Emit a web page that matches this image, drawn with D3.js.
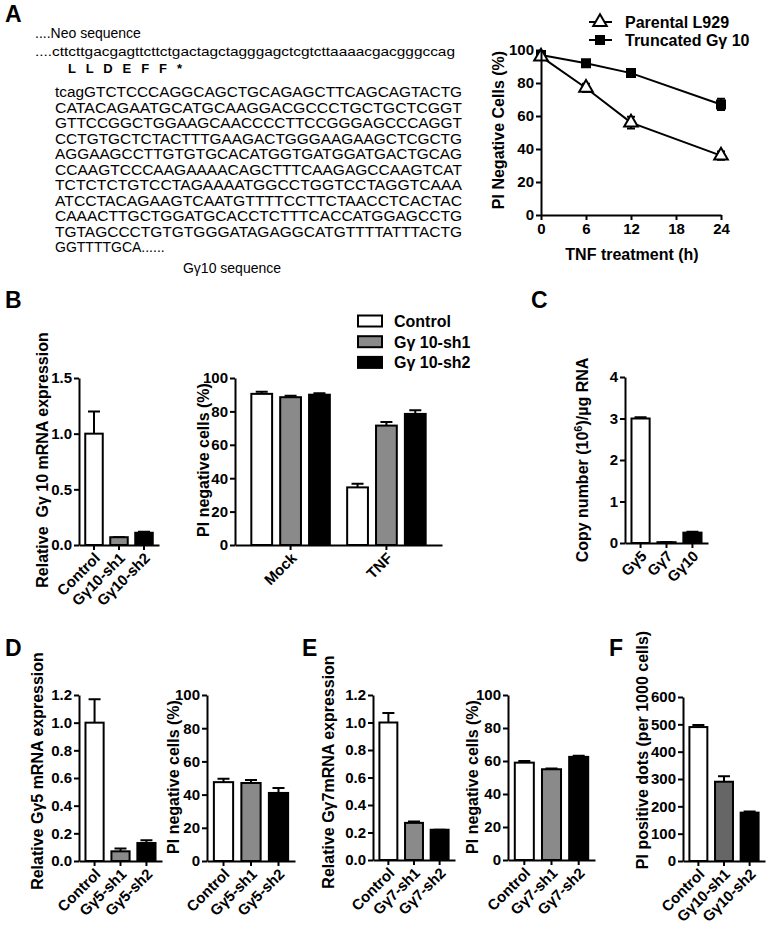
<!DOCTYPE html>
<meta charset="utf-8">
<script src="https://d3js.org/d3.v7.min.js"></script>
<style>
  body { margin: 0; background: #fff; }
  svg text { font-family: "Liberation Sans", Arial, sans-serif; fill: #000; }
  .axis path, .axis line { stroke: #000; stroke-width: 2px; }
  .axis text { font-size: 15px; font-weight: bold; }
  .title { font-size: 16px; font-weight: bold; white-space: pre; }
  .panel { font-size: 23px; font-weight: bold; }
  .seq { font-size: 14px; }
</style>
<body>
<svg id="fig" width="769" height="937"></svg>

<script>
// values
var tnfHours = [0, 6, 12, 24];
var hourTicks = [0, 6, 12, 18, 24];
var parentalL929 = [96, 77, 56, 36];
var parentalErr = [2, 2.5, 3.5, 2.5];
var truncatedGy10 = [97, 92, 86, 67];
var truncatedErr = [1, 1, 1, 3.4];

var piTicks = [0, 20, 40, 60, 80, 100];

var gy10Groups = ["Control", "Gγ 10-sh1", "Gγ 10-sh2"];
var gy10Labels = ["Control", "Gγ10-sh1", "Gγ10-sh2"];
var gy10Mrna = [1.0, 0.07, 0.11];
var gy10MrnaErr = [0.2, 0, 0.01];
var gy10MrnaTicks = [0, 0.5, 1.0, 1.5];

var treatments = ["Mock", "TNF"];
var mockPiNeg = [90.5, 88.5, 90];
var mockPiErr = [1.2, 0.8, 0.8];
var tnfPiNeg = [34.5, 71.5, 78.5];
var tnfPiErr = [2.2, 2.2, 2.2];

var gammaSubtypes = ["Gγ5", "Gγ7", "Gγ10"];
var copyNumber = [3.0, 0.02, 0.25];
var copyNumberErr = [0.03, 0, 0.02];
var copyTicks = [0, 1, 2, 3, 4];

var mrnaTicks = [0, 0.2, 0.4, 0.6, 0.8, 1.0, 1.2];

var gy5Labels = ["Control", "Gγ5-sh1", "Gγ5-sh2"];
var gy5Mrna = [1.0, 0.07, 0.13];
var gy5MrnaErr = [0.17, 0.02, 0.02];
var gy5PiNeg = [47.5, 47, 41];
var gy5PiErr = [2, 1.8, 3];

var gy7Labels = ["Control", "Gγ7-sh1", "Gγ7-sh2"];
var gy7Mrna = [1.0, 0.27, 0.22];
var gy7MrnaErr = [0.07, 0.01, 0];
var gy7PiNeg = [59, 55, 62.5];
var gy7PiErr = [1, 0.5, 0.7];

var dotLabels = ["Control", "Gγ10-sh1", "Gγ10-sh2"];
var piPositiveDots = [490, 290, 177];
var piPositiveErr = [8, 20, 4];
var dotTicks = [0, 100, 200, 300, 400, 500, 600];

var sequenceLines = [
  "tcagGTCTCCCAGGCAGCTGCAGAGCTTCAGCAGTACTG",
  "CATACAGAATGCATGCAAGGACGCCCTGCTGCTCGGT",
  "GTTCCGGCTGGAAGCAACCCCTTCCGGGAGCCCAGGT",
  "CCTGTGCTCTACTTTGAAGACTGGGAAGAAGCTCGCTG",
  "AGGAAGCCTTGTGTGCACATGGTGATGGATGACTGCAG",
  "CCAAGTCCCAAGAAAACAGCTTTCAAGAGCCAAGTCAT",
  "TCTCTCTGTCCTAGAAAATGGCCTGGTCCTAGGTCAAA",
  "ATCCTACAGAAGTCAATGTTTTCCTTCTAACCTCACTAC",
  "CAAACTTGCTGGATGCACCTCTTTCACCATGGAGCCTG",
  "TGTAGCCCTGTGTGGGATAGAGGCATGTTTTATTTACTG"
];

var fills = ["#fff", "#8a8a8a", "#000"];

var svg = d3.select("#fig");

// panel letters
[["A", 5, 22], ["B", 5, 308], ["C", 531, 308], ["D", 5, 656], ["E", 302, 656], ["F", 609, 656]]
  .forEach(function(p) {
    svg.append("text").attr("class", "panel").attr("x", p[1]).attr("y", p[2]).text(p[0]);
  });

// ---- A: sequence text ----
svg.append("text").attr("x", 35).attr("y", 38).style("font-size", "14px").text("....Neo sequence");
svg.append("text").attr("x", 35).attr("y", 56).style("font-size", "13px")
  .attr("textLength", 420).attr("lengthAdjust", "spacingAndGlyphs")
  .text("....cttcttgacgagttcttctgactagctagggagctcgtcttaaaacgacgggccag");
svg.append("text").attr("x", 68).attr("y", 73).style("font-size", "13px").style("font-weight", "bold")
  .attr("textLength", 114).text("L L D E F F *");
svg.selectAll(".seq")
  .data(sequenceLines)
  .enter()
  .append("text")
    .attr("class", "seq")
    .attr("x", 55)
    .attr("y", function(d, i) { return 97 + i * 15.5; })
    .attr("textLength", 407)
    .attr("lengthAdjust", "spacingAndGlyphs")
    .text(function(d) { return d; });
svg.append("text").attr("class", "seq").attr("x", 55).attr("y", 97 + 10 * 15.5).text("GGTTTTGCA......");
svg.append("text").attr("x", 232).attr("y", 273).attr("text-anchor", "middle")
  .style("font-size", "14px").text("Gγ10 sequence");

// ---- A: time course ----
var xA = d3.scaleLinear().domain([0, 24]).range([541, 721]);
var yA = d3.scaleLinear().domain([0, 100]).range([215, 50]);

function series(vals, errs, symbol, size, fill) {
  var g = svg.append("g");
  g.selectAll(".err")
    .data(vals)
    .enter()
    .append("path")
      .attr("d", function(d, i) {
        var x = xA(tnfHours[i]), y0 = yA(d - errs[i]), y1 = yA(d + errs[i]);
        return "M" + x + "," + y0 + "V" + y1 + "M" + (x - 4) + "," + y0 + "h8M" + (x - 4) + "," + y1 + "h8";
      })
      .attr("stroke", "#000").attr("stroke-width", 2);
  g.append("path")
    .datum(vals)
    .attr("d", d3.line()
      .x(function(d, i) { return xA(tnfHours[i]); })
      .y(function(d) { return yA(d); }))
    .attr("fill", "none").attr("stroke", "#000").attr("stroke-width", 2);
  g.selectAll(".pt")
    .data(vals)
    .enter()
    .append("path")
      .attr("transform", function(d, i) { return "translate(" + xA(tnfHours[i]) + "," + yA(d) + ")"; })
      .attr("d", d3.symbol().type(symbol).size(size))
      .attr("fill", fill).attr("stroke", "#000").attr("stroke-width", 2);
}
series(truncatedGy10, truncatedErr, d3.symbolSquare, 64, "#000");
series(parentalL929, parentalErr, d3.symbolTriangle, 80, "#fff");

svg.append("g").attr("class", "axis").attr("transform", "translate(541,0)")
  .call(d3.axisLeft(yA).tickValues(piTicks).tickSize(5).tickSizeOuter(0).tickPadding(2));
svg.append("g").attr("class", "axis").attr("transform", "translate(0,215)")
  .call(d3.axisBottom(xA).tickValues(hourTicks).tickSize(5).tickSizeOuter(0));
svg.append("text").attr("class", "title").attr("text-anchor", "middle")
  .attr("transform", "translate(504,130) rotate(-90)").text("PI Negative Cells (%)");
svg.append("text").attr("class", "title").attr("text-anchor", "middle")
  .attr("x", 632).attr("y", 260).text("TNF treatment (h)");

// legend A
var legA = [["Parental L929", d3.symbolTriangle, "#fff", 80], ["Truncated Gγ 10", d3.symbolSquare, "#000", 64]];
legA.forEach(function(l, i) {
  var y = 22 + i * 18;
  svg.append("path").attr("d", "M589," + y + "h23").attr("stroke", "#000").attr("stroke-width", 2);
  svg.append("path").attr("transform", "translate(600," + y + ")")
    .attr("d", d3.symbol().type(l[1]).size(l[3]))
    .attr("fill", l[2]).attr("stroke", "#000").attr("stroke-width", 2);
  svg.append("text").attr("class", "title").attr("x", 625).attr("y", y + 6).text(l[0]);
});

// ---- generic bar chart ----
function barChart(o) {
  var g = svg.append("g");
  var x = d3.scaleBand().domain(o.labels).range([o.left, o.right]).paddingInner(0.3).paddingOuter(0.25);
  var y = d3.scaleLinear().domain([0, o.max]).range([o.bottom, o.top]);
  var f = o.fills || fills;
  g.selectAll(".err")
    .data(o.values)
    .enter()
    .append("path")
      .attr("d", function(d, i) {
        var cx = x(o.labels[i]) + x.bandwidth() / 2, y1 = y(d + o.errors[i]);
        return "M" + cx + "," + y(d) + "V" + y1 + "M" + (cx - 6) + "," + y1 + "h12";
      })
      .attr("stroke", "#000").attr("stroke-width", 2);
  g.selectAll("rect")
    .data(o.values)
    .enter()
    .append("rect")
      .attr("x", function(d, i) { return x(o.labels[i]); })
      .attr("y", function(d) { return y(d); })
      .attr("width", x.bandwidth())
      .attr("height", function(d) { return o.bottom - y(d); })
      .attr("fill", function(d, i) { return f[i]; })
      .attr("stroke", "#000").attr("stroke-width", 2);
  g.append("g").attr("class", "axis").attr("transform", "translate(" + o.left + ",0)")
    .call(d3.axisLeft(y).tickValues(o.ticks).tickFormat(o.fmt).tickSize(5).tickSizeOuter(0).tickPadding(2));
  g.append("g").attr("class", "axis").attr("transform", "translate(0," + o.bottom + ")")
    .call(d3.axisBottom(x).tickSize(5).tickSizeOuter(0))
    .selectAll("text")
      .attr("x", 0).attr("y", 0).attr("dy", 0)
      .style("text-anchor", "end")
      .attr("transform", "translate(7,14) rotate(-45)");
  var t = g.append("text").attr("class", "title").attr("text-anchor", "middle")
    .attr("transform", "translate(" + o.titleX + "," + o.titleY + ") rotate(-90)");
  if (o.title) t.text(o.title);
  return t;
}

// B left
barChart({labels: gy10Labels, values: gy10Mrna, errors: gy10MrnaErr, max: 1.5, ticks: gy10MrnaTicks,
  fmt: d3.format(".1f"), left: 79, right: 159, top: 378, bottom: 545,
  title: "Relative  Gγ 10 mRNA expression", titleX: 48, titleY: 460});

// B middle: grouped
var x0 = d3.scaleBand().domain(treatments).range([235, 442]).paddingInner(0).paddingOuter(0.08);
var x1 = d3.scaleBand().domain(gy10Groups).range([0, x0.bandwidth()]).paddingInner(0.28).paddingOuter(0.3);
var yB = d3.scaleLinear().domain([0, 100]).range([545, 378]);
var groupData = [mockPiNeg, tnfPiNeg];
var groupErr = [mockPiErr, tnfPiErr];
treatments.forEach(function(t, k) {
  var g = svg.append("g").attr("transform", "translate(" + x0(t) + ",0)");
  g.selectAll(".err")
    .data(groupData[k])
    .enter()
    .append("path")
      .attr("d", function(d, i) {
        var cx = x1(gy10Groups[i]) + x1.bandwidth() / 2, y1 = yB(d + groupErr[k][i]);
        return "M" + cx + "," + yB(d) + "V" + y1 + "M" + (cx - 6) + "," + y1 + "h12";
      })
      .attr("stroke", "#000").attr("stroke-width", 2);
  g.selectAll("rect")
    .data(groupData[k])
    .enter()
    .append("rect")
      .attr("x", function(d, i) { return x1(gy10Groups[i]); })
      .attr("y", function(d) { return yB(d); })
      .attr("width", x1.bandwidth())
      .attr("height", function(d) { return 545 - yB(d); })
      .attr("fill", function(d, i) { return fills[i]; })
      .attr("stroke", "#000").attr("stroke-width", 2);
});
svg.append("g").attr("class", "axis").attr("transform", "translate(235,0)")
  .call(d3.axisLeft(yB).tickValues(piTicks).tickSize(5).tickSizeOuter(0).tickPadding(2));
svg.append("g").attr("class", "axis").attr("transform", "translate(0,545)")
  .call(d3.axisBottom(x0).tickSize(5).tickSizeOuter(0))
  .selectAll("text")
    .attr("x", 0).attr("y", 0).attr("dy", 0)
    .style("text-anchor", "end")
    .attr("transform", "translate(7,14) rotate(-45)");
svg.append("text").attr("class", "title").attr("text-anchor", "middle")
  .attr("transform", "translate(209,460) rotate(-90)").text("PI negative cells (%)");

// legend B
gy10Groups.forEach(function(name, i) {
  var y = 321 + i * 20.7;
  svg.append("rect").attr("x", 358).attr("y", y - 5.5).attr("width", 24).attr("height", 11)
    .attr("fill", fills[i]).attr("stroke", "#000").attr("stroke-width", 2);
  svg.append("text").attr("class", "title").attr("x", 394).attr("y", y + 6).text(name);
});

// C
var tC = barChart({labels: gammaSubtypes, values: copyNumber, errors: copyNumberErr, max: 4, ticks: copyTicks,
  fmt: d3.format("d"), left: 625, right: 708, top: 377, bottom: 543, titleX: 588, titleY: 460});
tC.append("tspan").text("Copy number (10");
tC.append("tspan").attr("dy", -6).style("font-size", "11px").text("6");
tC.append("tspan").attr("dy", 6).text(")/µg RNA");

// D
barChart({labels: gy5Labels, values: gy5Mrna, errors: gy5MrnaErr, max: 1.2, ticks: mrnaTicks,
  fmt: d3.format(".1f"), left: 79, right: 162, top: 695, bottom: 861,
  title: "Relative Gγ5 mRNA expression", titleX: 43, titleY: 771});
barChart({labels: gy5Labels, values: gy5PiNeg, errors: gy5PiErr, max: 100, ticks: piTicks,
  fmt: d3.format("d"), left: 207, right: 295, top: 695, bottom: 861,
  title: "PI negative cells (%)", titleX: 179, titleY: 777});

// E
barChart({labels: gy7Labels, values: gy7Mrna, errors: gy7MrnaErr, max: 1.2, ticks: mrnaTicks,
  fmt: d3.format(".1f"), left: 373, right: 455, top: 695, bottom: 860,
  title: "Relative Gγ7mRNA expression", titleX: 334, titleY: 772});
barChart({labels: gy7Labels, values: gy7PiNeg, errors: gy7PiErr, max: 100, ticks: piTicks,
  fmt: d3.format("d"), left: 508, right: 595, top: 695, bottom: 860,
  title: "PI negative cells (%)", titleX: 478, titleY: 777});

// F
barChart({labels: dotLabels, values: piPositiveDots, errors: piPositiveErr, max: 600, ticks: dotTicks,
  fmt: d3.format("d"), left: 683, right: 765, top: 697, bottom: 861,
  fills: ["#fff", "#666", "#000"],
  title: "PI positive dots (per 1000 cells)", titleX: 648, titleY: 750});
</script>
</body>
